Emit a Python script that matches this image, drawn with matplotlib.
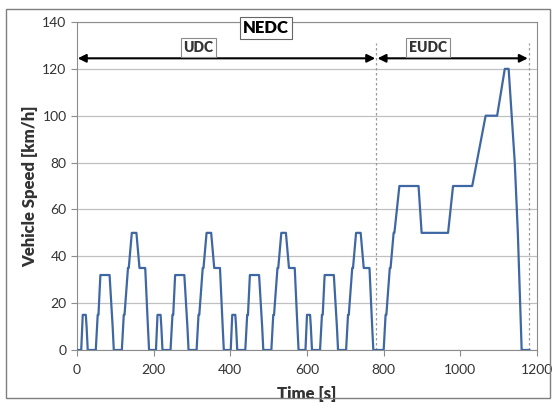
import matplotlib
matplotlib.use("Agg")
import matplotlib.pyplot as plt
from matplotlib.patches import Rectangle

plt.rcParams['font.family'] = ['Lato', 'DejaVu Sans']

# NEDC speed profile breakpoints: time [s], speed [km/h]
udc_time = [
    0, 11, 15, 23, 25, 28, 49, 54, 56, 61, 85, 93, 96, 117, 122, 124, 133, 135, 143, 155, 163, 176, 178, 185, 188,
    195, 206, 210, 218, 220, 223, 244, 249, 251, 256, 280, 288, 291, 312, 317, 319, 328, 330, 338, 350, 358, 371, 373, 380, 383,
    390, 401, 405, 413, 415, 418, 439, 444, 446, 451, 475, 483, 486, 507, 512, 514, 523, 525, 533, 545, 553, 566, 568, 575, 578,
    585, 596, 600, 608, 610, 613, 634, 639, 641, 646, 670, 678, 681, 702, 707, 709, 718, 720, 728, 740, 748, 761, 763, 770, 773,
]
udc_speed = [
    0, 0, 15, 15, 10, 0, 0, 15, 15, 32, 32, 10, 0, 0, 15, 15, 35, 35, 50, 50, 35, 35, 35, 10, 0,
    0, 0, 15, 15, 10, 0, 0, 15, 15, 32, 32, 10, 0, 0, 15, 15, 35, 35, 50, 50, 35, 35, 35, 10, 0,
    0, 0, 15, 15, 10, 0, 0, 15, 15, 32, 32, 10, 0, 0, 15, 15, 35, 35, 50, 50, 35, 35, 35, 10, 0,
    0, 0, 15, 15, 10, 0, 0, 15, 15, 32, 32, 10, 0, 0, 15, 15, 35, 35, 50, 50, 35, 35, 35, 10, 0,
]
eudc_time = [780, 800, 805, 807, 816, 818, 826, 828, 841, 891, 899, 968, 981, 1031,
             1066, 1096, 1116, 1126, 1142, 1150, 1160, 1180]
eudc_speed = [0, 0, 15, 15, 35, 35, 50, 50, 70, 70, 50, 50, 70, 70,
              100, 100, 120, 120, 80, 50, 0, 0]

time = udc_time + eudc_time
speed = udc_speed + eudc_speed

udc_end = 780
eudc_end = 1180

fig = plt.figure(figsize=(5.57, 4.05), dpi=100)
ax = fig.add_axes([77 / 557, 1 - 350 / 405, 460 / 557, 328 / 405])

# chart border like the spreadsheet frame
fig.patches.append(Rectangle((6 / 557, 1 - 398 / 405), 544 / 557, 389 / 405,
                             transform=fig.transFigure, fill=False,
                             edgecolor='#7f7f7f', lw=1.0))

ax.plot(time, speed, color='#3F67A3', lw=1.6, zorder=3)

ax.set_xlim(0, 1200)
ax.set_ylim(0, 140)
ax.set_xticks(range(0, 1201, 200))
ax.set_yticks(range(0, 141, 20))
ax.yaxis.grid(True, color='#c0c0c0', lw=0.9)
ax.set_axisbelow(True)
for s in ax.spines.values():
    s.set_color('#8c8c8c')
ax.tick_params(direction='out', length=4, color='#8c8c8c', labelsize=10, labelcolor='#333333')
ax.tick_params(axis='x', pad=6)

ax.set_xlabel('Time [s]', fontsize=12, fontweight='heavy', color='#333333', labelpad=7)
ax.set_ylabel('Vehicle Speed [km/h]', fontsize=12, fontweight='heavy', color='#333333', labelpad=3)

# phase boundaries
for t in [udc_end, eudc_end]:
    ax.plot([t, t], [0, 131], color='#9a9a9a', lw=0.9, ls=(0, (2, 2)), zorder=2)

arrow = dict(arrowstyle='<|-|>', color='black', lw=1.5, mutation_scale=12,
             shrinkA=0, shrinkB=0)
ax.annotate('', xy=(2, 124.5), xytext=(udc_end - 2, 124.5), arrowprops=arrow)
ax.annotate('', xy=(udc_end + 4, 124.5), xytext=(eudc_end - 4, 124.5), arrowprops=arrow)

box = dict(facecolor='white', edgecolor='#8c8c8c', boxstyle='square,pad=0.2', lw=0.8)
ax.text(317, 129, 'UDC', ha='center', va='center', fontsize=10, fontweight='heavy',
        color='#333333', bbox=box)
ax.text(916, 129, 'EUDC', ha='center', va='center', fontsize=10, fontweight='heavy',
        color='#333333', bbox=box)
ax.text(493, 137.5, 'NEDC', ha='center', va='center', fontsize=12, fontweight='heavy',
        color='black', bbox=dict(facecolor='white', edgecolor='#666666',
                                 boxstyle='square,pad=0.2', lw=0.8), zorder=5)

fig.savefig('out.png', dpi=100)
